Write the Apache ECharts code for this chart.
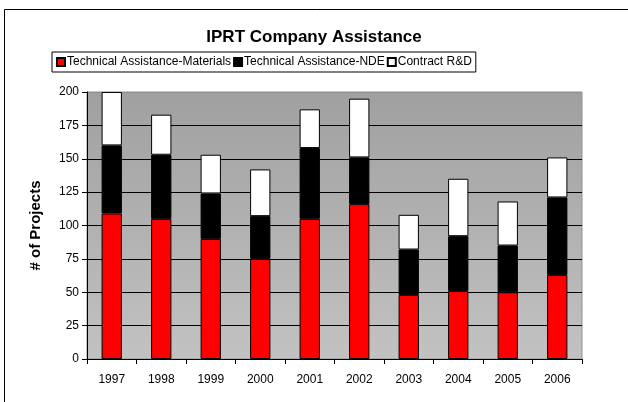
<!DOCTYPE html>
<html>
<head>
<meta charset="utf-8">
<script src="https://cdn.jsdelivr.net/npm/echarts@6/dist/echarts.min.js"></script>
<style>
  html, body { margin: 0; padding: 0; background: #fff; }
  #chart { width: 628px; height: 402px; }
</style>
</head>
<body>
<div id="chart"></div>
<script>
const years = ['1997', '1998', '1999', '2000', '2001', '2002', '2003', '2004', '2005', '2006']
const materials = [109, 105, 90, 75, 105, 116, 48, 51, 50, 63]
const nde = [51, 48, 34, 32, 53, 35, 34, 41, 35, 58]
const contract = [40, 30, 29, 35, 29, 44, 26, 43, 33, 30]

const chart = echarts.init(document.getElementById('chart'))

const barStyle = (color) => ({ color: color, borderColor: '#000', borderWidth: 1 })

chart.setOption({
  animation: false,
  textStyle: { fontFamily: 'Liberation Sans, Arial, sans-serif' },
  graphic: [{
    type: 'rect',
    shape: { x: 4.5, y: 9.5, width: 660, height: 420 },
    style: { fill: 'none', stroke: '#000', lineWidth: 1 },
    silent: true
  }],
  title: {
    text: 'IPRT Company Assistance',
    left: 'center',
    top: 24,
    textStyle: { fontSize: 17, fontWeight: 'bold', color: '#000' }
  },
  legend: {
    left: 52,
    top: 52,
    padding: [4, 4, 4, 4],
    borderColor: '#000',
    borderWidth: 1,
    itemWidth: 8,
    itemHeight: 8,
    itemGap: 2,
    icon: 'rect',
    textStyle: { fontSize: 12, color: '#000', padding: [0, 0, 0, -3] },
    data: ['Technical Assistance-Materials', 'Technical Assistance-NDE', 'Contract R&D']
  },
  grid: {
    left: 87,
    right: 46,
    top: 92,
    bottom: 43,
    show: true,
    borderColor: '#909090',
    borderWidth: 1,
    backgroundColor: {
      type: 'linear', x: 0, y: 0, x2: 0, y2: 1,
      colorStops: [{ offset: 0, color: '#a0a0a0' }, { offset: 1, color: '#c2c2c2' }]
    }
  },
  xAxis: {
    type: 'category',
    data: years,
    axisLine: { lineStyle: { color: '#000', width: 1 } },
    axisTick: { show: true, length: 5, lineStyle: { color: '#000' } },
    axisLabel: { color: '#000', fontSize: 12, margin: 15 }
  },
  yAxis: {
    type: 'value',
    min: 0,
    max: 200,
    interval: 25,
    name: '# of Projects',
    nameLocation: 'middle',
    nameGap: 44,
    nameTextStyle: { fontSize: 15, fontWeight: 'bold', color: '#000' },
    axisLine: { show: true, lineStyle: { color: '#000', width: 1 } },
    axisTick: { show: true, length: 5, lineStyle: { color: '#000' } },
    axisLabel: { color: '#000', fontSize: 12, margin: 8 },
    splitLine: {
      show: true,
      lineStyle: { color: ['#000', '#000', '#000', '#000', '#000', '#000', '#000', '#000', '#909090'], width: 1 }
    }
  },
  series: [
    { name: 'Technical Assistance-Materials', type: 'bar', stack: 'a', barWidth: '41%', data: materials, itemStyle: barStyle('#ff0000') },
    { name: 'Technical Assistance-NDE', type: 'bar', stack: 'a', data: nde, itemStyle: barStyle('#000000') },
    { name: 'Contract R&D', type: 'bar', stack: 'a', data: contract, itemStyle: barStyle('#ffffff') }
  ]
})
</script>
</body>
</html>
